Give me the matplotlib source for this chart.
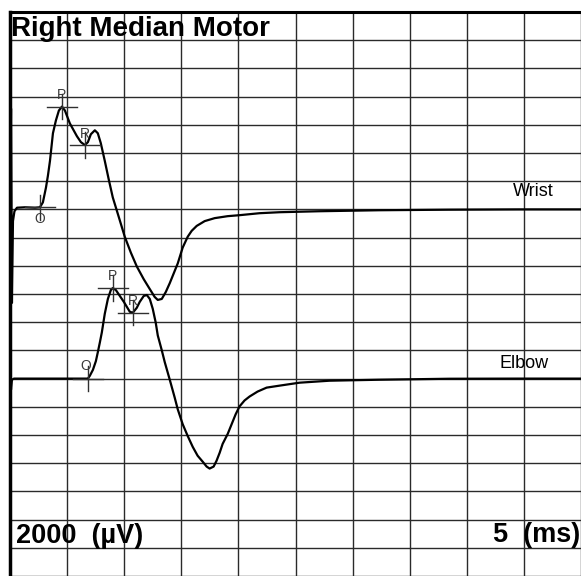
import matplotlib
matplotlib.use("Agg")
from matplotlib import pyplot as plt

plt.rcParams['font.family'] = ['Liberation Sans', 'DejaVu Sans']

# sweep settings: 5 ms/div, 2000 uV/div
ms_per_div = 5
uv_per_div = 2000

# Wrist trace (ms, uV relative to its own baseline)
wrist_t = [0.00, 0.09, 0.17, 0.26, 0.39, 0.61, 1.31, 2.19, 2.62, 2.88, 3.15, 3.32,
           3.50, 3.76, 4.02, 4.28, 4.55, 4.81, 5.24, 5.86, 6.21, 6.56, 6.82, 7.08,
           7.43, 7.69, 7.95, 8.30, 8.65, 9.00, 9.53, 10.05, 10.58, 11.10, 11.71, 12.24,
           12.67, 12.94, 13.29, 13.64, 13.99, 14.34, 14.69, 15.12, 15.56, 15.91, 16.35, 17.05,
           17.92, 19.06, 20.10, 21.85, 23.60, 27.10, 32.34, 38.46, 44.58, 50.0]
wrist_v = [0, 7150, -6630, -830, -130, 120, 150, 120, 150, 500, 1550, 2390,
           3440, 5400, 6310, 7010, 7290, 7010, 6100, 5190, 4770, 4560, 4770, 5330,
           5610, 5400, 4700, 3440, 2110, 850, -550, -1940, -3060, -4040, -4950, -5650,
           -6210, -6420, -6350, -5860, -5230, -4530, -3830, -2710, -1940, -1520, -1170, -830,
           -620, -480, -410, -270, -200, -130, -60, -20, 0, 0]

# Elbow trace
elbow_t = [0.00, 0.09, 0.17, 0.35, 1.75, 4.37, 6.82, 6.99, 7.26, 7.52, 7.69, 7.87,
           8.04, 8.30, 8.57, 8.83, 9.00, 9.27, 9.62, 9.97, 10.23, 10.49, 10.75, 11.10,
           11.36, 11.71, 11.98, 12.24, 12.50, 12.76, 12.94, 13.29, 13.55, 13.99, 14.42, 14.69,
           15.12, 15.56, 16.00, 16.43, 16.87, 17.22, 17.48, 17.83, 18.09, 18.36, 18.62, 19.06,
           19.41, 19.76, 20.10, 20.54, 20.98, 21.68, 22.47, 23.60, 25.35, 27.97, 32.34, 38.46,
           44.58, 50.0]
elbow_v = [0, -780, -80, 0, 0, 0, 0, 200, 620, 1240, 1870, 2570,
           3270, 4600, 5650, 6280, 6420, 6280, 5860, 5440, 5090, 4740, 4670, 5020,
           5440, 5860, 5930, 5650, 4950, 3970, 3060, 2010, 1170, -80, -1340, -2180,
           -3230, -4070, -4840, -5470, -5890, -6240, -6380, -6240, -5820, -5260, -4630, -3930,
           -3230, -2530, -1970, -1550, -1270, -920, -640, -500, -290, -150, -80, -10,
           0, 0]

# markers: label, time (ms), amplitude (uV)
wrist_marks = [("O", 2.62, 150), ("P", 4.55, 7290), ("R", 6.56, 4560)]
elbow_marks = [("O", 6.82, 0), ("P", 9.00, 6420), ("R", 10.75, 4670)]

# baselines sit 7 and 13 divisions below the top
wrist_base = -7 * uv_per_div
elbow_base = -13 * uv_per_div

fig = plt.figure(figsize=(5.81, 5.76), dpi=100)
ax = fig.add_axes([10 / 581, 0, 571 / 581, 564 / 576])
ax.set_xlim(0, 571 / 57.2 * ms_per_div)
ax.set_ylim(-564 / 28.6 * uv_per_div, 0)

ax.set_xticks([i * ms_per_div for i in range(11)])
ax.set_yticks([-i * uv_per_div for i in range(21)])
ax.grid(True, color='#2a2a2a', lw=1.0)
ax.tick_params(length=0, labelbottom=False, labelleft=False)
for s in ['right', 'bottom']:
    ax.spines[s].set_visible(False)
ax.spines['top'].set_linewidth(2.2)
ax.spines['left'].set_linewidth(2.5)

ax.plot(wrist_t, [v + wrist_base for v in wrist_v], color='black', lw=1.6, zorder=3)
ax.plot(elbow_t, [v + elbow_base for v in elbow_v], color='black', lw=1.6, zorder=3)

hw, hh = 1.3, 900
def crosshair(lbl, t, v, dx, dy):
    ax.plot([t - hw, t + hw], [v, v], color='#303030', lw=1.0, zorder=4)
    ax.plot([t, t], [v - hh, v + hh], color='#303030', lw=1.0, zorder=4)
    ax.annotate(lbl, (t, v), xytext=(dx, dy), textcoords='offset points',
                ha='center', va='center', fontsize=10, color='#3a3a3a', zorder=5)

for lbl, t, v in wrist_marks:
    dy = -8.5 if lbl == "O" else 8
    crosshair(lbl, t, v + wrist_base, 0, dy)
for lbl, t, v in elbow_marks:
    dx, dy = (-1.5, 9) if lbl == "O" else (0, 8.5)
    crosshair(lbl, t, v + elbow_base, dx, dy)

ax.text(47.6, wrist_base + 1250, "Wrist", ha='right', va='center', fontsize=13)
ax.text(47.2, elbow_base + 1040, "Elbow", ha='right', va='center', fontsize=13)

fig.text(11 / 581, 1 - 36 / 576, "Right Median Motor", fontsize=20, fontweight='bold',
         ha='left', va='baseline')
fig.text(16 / 581, 1 - 543 / 576, "2000  (\u00b5V)", fontsize=19.5, fontweight='bold',
         ha='left', va='baseline')
fig.text(580 / 581, 1 - 542 / 576, "5  (ms)", fontsize=19.5, fontweight='bold',
         ha='right', va='baseline')

fig.savefig("out.png", dpi=100)
